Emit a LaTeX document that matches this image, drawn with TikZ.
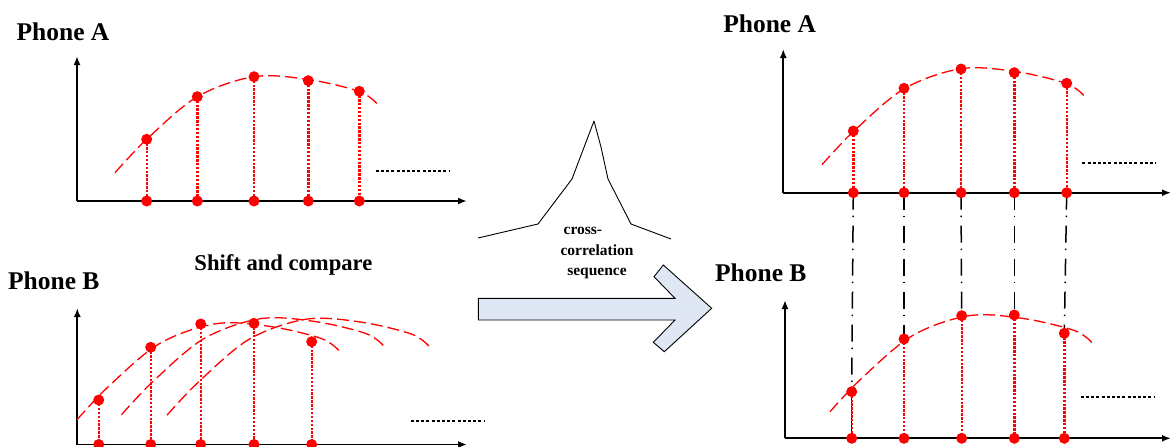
\documentclass[tikz,border=0pt]{standalone}
\usepackage{fontspec}
\setmainfont{Liberation Serif}
\usetikzlibrary{arrows.meta}
\definecolor{arrowfill}{RGB}{222,231,243}
\newcommand\sigpath{plot[smooth,tension=0.55] coordinates{(115,172.7) (146.7,139.3) (197.3,96.7) (254,76.7) (308.3,79.5) (359.3,91.5) (377.3,104)}}
\begin{document}
\begin{tikzpicture}[x=1pt,y=-1pt,
  axis/.style={line width=1.9pt,-{Latex[length=9pt,width=7pt]}},
  sig/.style={red,line width=1.3pt,dash pattern=on 12pt off 5pt},
  drop/.style={red,line width=2.4pt,dash pattern=on 2.4pt off 1.5pt},
  sample/.style={circle,fill=red,inner sep=0pt,minimum size=11pt},
  more/.style={line width=1.8pt,dash pattern=on 3pt off 2.2pt},
  matchline/.style={line width=1.5pt,dash pattern=on 17pt off 6pt on 1.5pt off 8.5pt},
  lbl/.style={font=\fontsize{25.5}{28}\selectfont\bfseries,inner sep=0pt},
  small/.style={font=\fontsize{15.5}{17}\selectfont\bfseries,inner sep=0pt}]
\useasboundingbox (0,0) rectangle (1171,447);

% ---------- left Phone A ----------
\coordinate (LAo) at (77,201);
\coordinate (LAy) at (77,56);
\coordinate (LAx) at (467,201);
\draw[axis] (LAo) -- (LAy);
\draw[axis] (LAo) -- (LAx);
\draw[sig] \sigpath;
\coordinate (LAm1) at (375.7,171); \coordinate (LAm2) at (449.3,171);
\draw[more] (LAm1) -- (LAm2);
\foreach \i/\x/\y in {1/146.7/139.3,2/197.3/96.7,3/254/76.7,4/308.3/80.7,5/359.3/91.3}{
  \coordinate (LAs\i) at (\x,\y);
  \coordinate (LAb\i) at (\x,201);
  \draw[drop] (LAs\i) -- (LAb\i);
  \node[sample] (LAsn\i) at (LAs\i) {};
  \node[sample] (LAbn\i) at (LAb\i) {};
}
\node[lbl,anchor=base] (tLA) at (63,40.7) {Phone A};

% ---------- left Phone B ----------
\coordinate (LBo) at (77.3,444.5);
\coordinate (LBy) at (77.3,308);
\coordinate (LBx) at (467,444.5);
\draw[axis] (LBo) -- (LBy);
\draw[axis] (LBo) -- (LBx);
\draw[sig,shift={(-38,247)}] \sigpath;
\draw[sig,shift={(6.5,242)}] \sigpath;
\draw[sig,shift={(52,242.5)}] \sigpath;
\coordinate (LBm1) at (410.7,420.7); \coordinate (LBm2) at (484,420.7);
\draw[more] (LBm1) -- (LBm2);
\foreach \i/\x/\y in {1/98.7/400,2/150.7/347.3,3/200.7/324,4/254/323.3,5/311.7/341.7}{
  \coordinate (LBs\i) at (\x,\y);
  \coordinate (LBb\i) at (\x,444.5);
  \draw[drop] (LBs\i) -- (LBb\i);
  \node[sample] (LBsn\i) at (LBs\i) {};
  \node[sample] (LBbn\i) at (LBb\i) {};
}
\node[lbl,anchor=base] (tLB) at (53.8,289.3) {Phone B};
\node[font=\fontsize{22.6}{26}\selectfont\bfseries,inner sep=0pt,anchor=base] (tShift) at (283.4,270) {Shift and compare};

% ---------- middle ----------
\draw[line width=0.9pt,line join=round] (478,238) -- (538,224) -- (572,179) -- (594,121) -- (601,147) -- (608,179) -- (631,224) -- (671,239);
\node[small,anchor=base west] (tc1) at (563.5,234.5) {cross-};
\node[small,anchor=base] (tc2) at (597,255) {correlation};
\node[small,anchor=base] (tc3) at (597,275) {sequence};
\draw[fill=arrowfill,line width=0.9pt] (478.3,298.3) -- (675,298.3) -- (654,276.7) -- (663.3,265) -- (711.7,308.3) -- (664.3,351.7) -- (653.3,342.3) -- (675,320) -- (478.3,320) -- cycle;

% ---------- right Phone A ----------
\coordinate (RAo) at (783.3,192.7);
\coordinate (RAy) at (783.3,49);
\coordinate (RAx) at (1171,192.7);
\draw[axis] (RAo) -- (RAy);
\draw[axis] (RAo) -- (RAx);
\draw[sig,shift={(707,-8)}] \sigpath;
\coordinate (RAm1) at (1082.3,162.7); \coordinate (RAm2) at (1156,162.7);
\draw[more] (RAm1) -- (RAm2);
\node[lbl,anchor=base] (tRA) at (769.7,32.3) {Phone A};

% ---------- right Phone B ----------
\coordinate (RBo) at (785,438.3);
\coordinate (RBy) at (785,300);
\coordinate (RBx) at (1171,438.3);
\draw[axis] (RBo) -- (RBy);
\draw[axis] (RBo) -- (RBx);
\draw[sig,shift={(715,239)}] \sigpath;
\coordinate (RBm1) at (1080.7,396.7); \coordinate (RBm2) at (1154.3,396.7);
\draw[more] (RBm1) -- (RBm2);
\node[lbl,anchor=base] (tRB) at (760.8,281) {Phone B};

% samples and alignment lines
\foreach \i/\x/\y in {1/853.3/131,2/904/88.3,3/961/69,4/1014.3/72.7,5/1066.7/83.3}{
  \coordinate (RAs\i) at (\x,\y);
  \coordinate (RAb\i) at (\x,192.7);
}
\foreach \i/\x/\y in {1/851.7/391.7,2/904/339,3/961.7/315.7,4/1014.3/315,5/1064.3/333.3}{
  \coordinate (RBs\i) at (\x,\y);
  \coordinate (RBb\i) at (\x,438.3);
}
\foreach \i in {1,...,5}{
  \draw[matchline] (RAb\i) -- (RBs\i);
}
\draw[line width=1.5pt] (RBs1) -- (RBb1);
\foreach \i in {1,...,5}{
  \draw[drop] (RAs\i) -- (RAb\i);
  \draw[drop] (RBs\i) -- (RBb\i);
  \node[sample] (RAsn\i) at (RAs\i) {};
  \node[sample] (RAbn\i) at (RAb\i) {};
  \node[sample] (RBsn\i) at (RBs\i) {};
  \node[sample] (RBbn\i) at (RBb\i) {};
}
\end{tikzpicture}
\end{document}
